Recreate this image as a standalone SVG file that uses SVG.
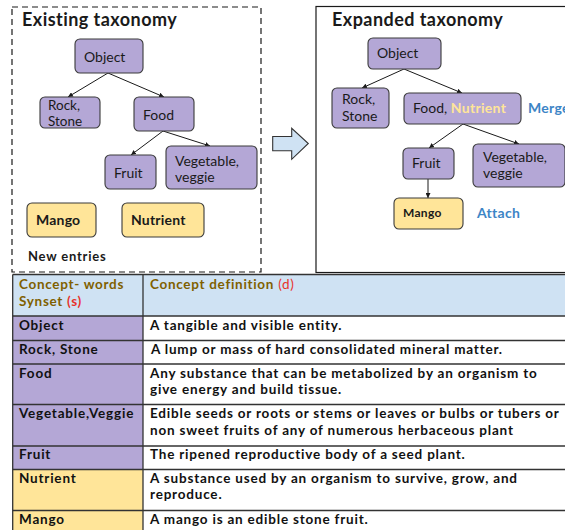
<svg xmlns="http://www.w3.org/2000/svg" width="565" height="530" viewBox="0 0 565 530">
  <style>
    text { font-family: "Lato", "Liberation Sans", sans-serif; fill: #1a1a1a; }
    .title { font-size: 18px; font-weight: 700; letter-spacing: 0.45px; }
    .lbl { font-size: 14px; }
    .sm { font-size: 13.5px; }
    .blbl { font-size: 14px; font-weight: 700; letter-spacing: 0.2px; }
    .purple { fill: #b4a7d6; stroke: #3a3a3a; stroke-width: 1.1; }
    .yellow { fill: #ffe599; stroke: #3a3a3a; stroke-width: 1.1; }
    .edge { stroke: #1a1a1a; stroke-width: 1; fill: none; marker-end: url(#ah); }
    .action { font-size: 14px; font-weight: 700; fill: #3d85c6; letter-spacing: 0.3px; }
    .hdr { font-size: 13.5px; font-weight: 700; fill: #7f6000; letter-spacing: 0.7px; }
    .red { fill: #e8322b; }
    .cell { font-size: 13.5px; font-weight: 700; fill: #111; letter-spacing: 0.8px; }
    .rule { stroke: #333; stroke-width: 1.3; }
  </style>
  <defs>
    <marker id="ah" viewBox="0 0 10 10" refX="10" refY="5" markerWidth="5" markerHeight="5" orient="auto" markerUnits="userSpaceOnUse">
      <path d="M0,0 L10,5 L0,10 z" fill="#1a1a1a"/>
    </marker>
  </defs>

  <rect width="565" height="530" fill="#ffffff"/>

  <!-- Existing taxonomy panel -->
  <g id="panel-existing">
    <rect x="12" y="7" width="249" height="265" fill="none" stroke="#1a1a1a" stroke-width="1.2" stroke-dasharray="6 4"/>
    <text class="title" x="22" y="26">Existing taxonomy</text>
    <text x="28" y="261" style="font-size:13px;font-weight:700;letter-spacing:0.8px">New entries</text>
  </g>

  <!-- Expanded taxonomy panel -->
  <g id="panel-expanded">
    <rect x="316" y="6.5" width="260" height="266" fill="none" stroke="#1a1a1a" stroke-width="1.2"/>
    <text class="title" x="332" y="26">Expanded taxonomy</text>
    <text class="action" x="528" y="113">Merge</text>
    <text class="action" x="477" y="218">Attach</text>
  </g>

  <!-- Block arrow between panels -->
  <g id="transition-arrow">
    <path d="M272.7,136.5 L291.7,136.5 L291.7,128.3 L308.3,143.5 L291.7,159.3 L291.7,150.7 L272.7,150.7 Z" fill="#cfe2f3" stroke="#333" stroke-width="1.1" stroke-linejoin="miter"/>
  </g>

  <!-- Connectors -->
  <g id="connectors">
    <line class="edge" x1="108" y1="73" x2="68" y2="97"/>
    <line class="edge" x1="108" y1="73" x2="164" y2="97"/>
    <line class="edge" x1="163" y1="131" x2="131" y2="155"/>
    <line class="edge" x1="163" y1="131" x2="210" y2="146"/>
    <line class="edge" x1="404" y1="69" x2="362" y2="88"/>
    <line class="edge" x1="404" y1="69" x2="462" y2="93"/>
    <line class="edge" x1="463" y1="124" x2="429" y2="148"/>
    <line class="edge" x1="463" y1="124" x2="519" y2="144"/>
    <line class="edge" x1="428" y1="179" x2="428" y2="198"/>
  </g>

  <!-- Existing taxonomy nodes -->
  <g id="ex-object">
    <rect class="purple" x="75" y="39" width="68" height="34" rx="5"/>
    <text class="lbl" x="84" y="62">Object</text>
  </g>
  <g id="ex-rock">
    <rect class="purple" x="40" y="97" width="60" height="31" rx="5"/>
    <text class="sm" x="48" y="110">Rock,</text>
    <text class="sm" x="48" y="125.5">Stone</text>
  </g>
  <g id="ex-food">
    <rect class="purple" x="134" y="97" width="60" height="34" rx="5"/>
    <text class="lbl" x="143" y="120">Food</text>
  </g>
  <g id="ex-fruit">
    <rect class="purple" x="105" y="155" width="51" height="34" rx="5"/>
    <text class="lbl" x="114" y="178">Fruit</text>
  </g>
  <g id="ex-vegetable">
    <rect class="purple" x="166" y="146" width="91" height="43" rx="5"/>
    <text class="lbl" x="175" y="165.5">Vegetable,</text>
    <text class="lbl" x="175" y="181.5">veggie</text>
  </g>
  <g id="ex-mango">
    <rect class="yellow" x="27" y="203" width="69" height="34" rx="5"/>
    <text class="blbl" x="36" y="225">Mango</text>
  </g>
  <g id="ex-nutrient">
    <rect class="yellow" x="122" y="203" width="82" height="34" rx="5"/>
    <text class="blbl" x="131" y="225">Nutrient</text>
  </g>

  <!-- Expanded taxonomy nodes -->
  <g id="ew-object">
    <rect class="purple" x="368" y="38" width="73" height="31" rx="5"/>
    <text class="lbl" x="377" y="58">Object</text>
  </g>
  <g id="ew-rock">
    <rect class="purple" x="332" y="88" width="57" height="40" rx="5"/>
    <text class="lbl" x="342" y="103.5">Rock,</text>
    <text class="lbl" x="342" y="120.5">Stone</text>
  </g>
  <g id="ew-food">
    <rect class="purple" x="404" y="93" width="117" height="31" rx="5"/>
    <text class="lbl" x="413" y="113">Food, <tspan style="font-weight:700;fill:#ffe599;letter-spacing:0.3px">Nutrient</tspan></text>
  </g>
  <g id="ew-fruit">
    <rect class="purple" x="403" y="148" width="51" height="31" rx="5"/>
    <text class="lbl" x="412" y="168">Fruit</text>
  </g>
  <g id="ew-vegetable">
    <rect class="purple" x="473" y="144" width="92" height="43" rx="5"/>
    <text class="lbl" x="483" y="161.5">Vegetable,</text>
    <text class="lbl" x="483" y="177.5">veggie</text>
  </g>
  <g id="ew-mango">
    <rect class="yellow" x="394" y="198" width="69" height="31" rx="5"/>
    <text x="403" y="217" style="font-size:12px;font-weight:700;letter-spacing:0.3px">Mango</text>
  </g>

  <!-- Concept table -->
  <g id="concept-table">
    <rect x="12.7" y="274.5" width="560" height="41.5" fill="#cfe2f3"/>
    <rect x="12.7" y="316" width="130.3" height="153.5" fill="#b4a7d6"/>
    <rect x="12.7" y="469.5" width="130.3" height="70" fill="#ffe599"/>

    <line class="rule" x1="12.7" y1="274.5" x2="565" y2="274.5"/>
    <line class="rule" x1="12.7" y1="316" x2="565" y2="316"/>
    <line class="rule" x1="12.7" y1="340.5" x2="565" y2="340.5"/>
    <line class="rule" x1="12.7" y1="364" x2="565" y2="364"/>
    <line class="rule" x1="12.7" y1="404.5" x2="565" y2="404.5"/>
    <line class="rule" x1="12.7" y1="446" x2="565" y2="446"/>
    <line class="rule" x1="12.7" y1="469.5" x2="565" y2="469.5"/>
    <line class="rule" x1="12.7" y1="510.5" x2="565" y2="510.5"/>
    <line class="rule" x1="12.7" y1="274.5" x2="12.7" y2="530"/>
    <line class="rule" x1="143" y1="274.5" x2="143" y2="530"/>

    <text class="hdr" x="19" y="289">Concept- words</text>
    <text class="hdr" x="19" y="306">Synset <tspan class="red">(s)</tspan></text>
    <text class="hdr" x="150" y="289">Concept definition <tspan class="red" style="font-weight:400">(d)</tspan></text>

    <text class="cell" x="19" y="330">Object</text>
    <text class="cell" x="150" y="330">A tangible and visible entity.</text>

    <text class="cell" x="19" y="354">Rock, Stone</text>
    <text class="cell" x="151" y="354">A lump or mass of hard consolidated mineral matter.</text>

    <text class="cell" x="19" y="378">Food</text>
    <text class="cell" x="150" y="378">Any substance that can be metabolized by an organism to</text>
    <text class="cell" x="150" y="394">give energy and build tissue.</text>

    <text class="cell" x="19" y="418">Vegetable,Veggie</text>
    <text class="cell" x="150" y="418">Edible seeds or roots or stems or leaves or bulbs or tubers or</text>
    <text class="cell" x="150" y="435">non sweet fruits of any of numerous herbaceous plant</text>

    <text class="cell" x="19" y="459">Fruit</text>
    <text class="cell" x="150" y="459">The ripened reproductive body of a seed plant.</text>

    <text class="cell" x="19" y="483">Nutrient</text>
    <text class="cell" x="150" y="483">A substance used by an organism to survive, grow, and</text>
    <text class="cell" x="150" y="499">reproduce.</text>

    <text class="cell" x="19" y="524">Mango</text>
    <text class="cell" x="150" y="524">A mango is an edible stone fruit.</text>
  </g>
</svg>
